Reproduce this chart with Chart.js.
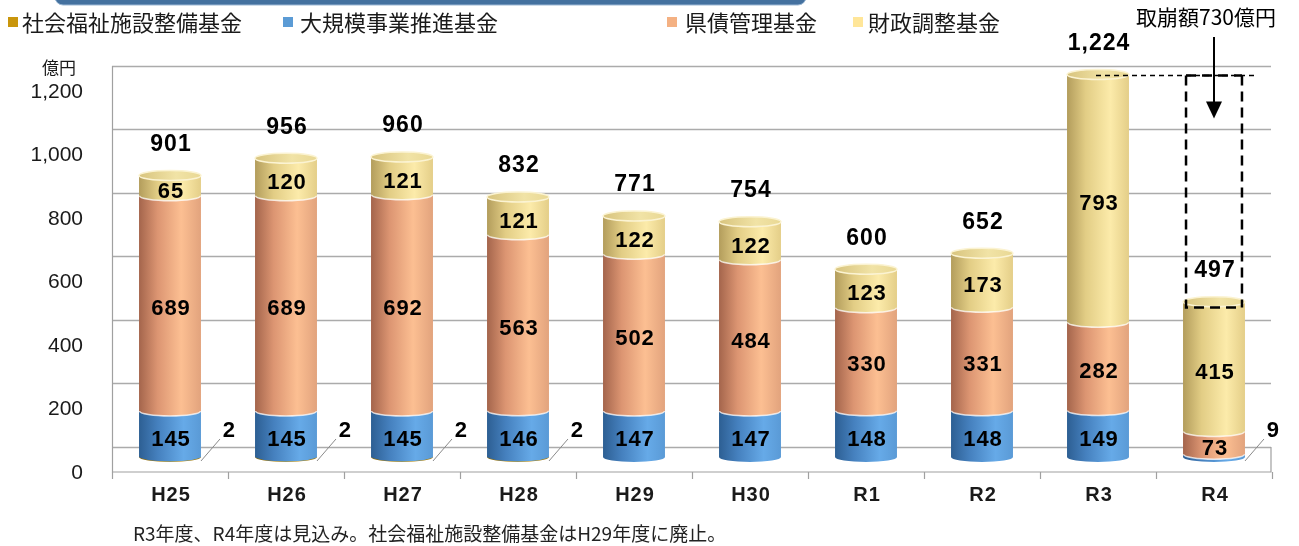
<!DOCTYPE html>
<html lang="ja">
<head>
<meta charset="utf-8">
<title>基金残高の推移</title>
<script src="https://cdn.jsdelivr.net/npm/chart.js@4.4.1/dist/chart.umd.min.js"></script>
<style>
  html, body { margin: 0; padding: 0; background: #fff; }
  #wrap { width: 1299px; height: 546px; }
</style>
</head>
<body>
<div id="wrap"><canvas id="fundChart" width="1299" height="546"></canvas></div>
<script>
  // Data (億円)
  const categories = ['H25', 'H26', 'H27', 'H28', 'H29', 'H30', 'R1', 'R2', 'R3', 'R4'];
  const welfareFund = [2, 2, 2, 2, 0, 0, 0, 0, 0, 0];           // 社会福祉施設整備基金
  const largeProjectFund = [145, 145, 145, 146, 147, 147, 148, 148, 149, 9]; // 大規模事業推進基金
  const bondFund = [689, 689, 692, 563, 502, 484, 330, 331, 282, 73];      // 県債管理基金
  const adjustmentFund = [65, 120, 121, 121, 122, 122, 123, 173, 793, 415]; // 財政調整基金
  const totals = [901, 956, 960, 832, 771, 754, 600, 652, 1224, 497];
  const yTicks = [0, 200, 400, 600, 800, 1000, 1200];
  const drawdownLabel = '取崩額730億円';
  const footnote = 'R3年度、R4年度は見込み。社会福祉施設整備基金はH29年度に廃止。';

  const JP = '"Noto Sans CJK JP", "Noto Sans", sans-serif';
  const NUM = '"Liberation Sans", Arial, sans-serif';

  // side gradients for each series
  const palettes = [
    { legend: '#c9960c', stops: [[0, '#8a6a10'], [0.5, '#c9960c'], [1, '#a07a10']] },
    { legend: '#5b9bd5', stops: [[0, '#2d5f93'], [0.3, '#4580be'], [0.72, '#66aae8'], [1, '#5a9ad6']] },
    { legend: '#f4b183', stops: [[0, '#a4654c'], [0.3, '#dc9572'], [0.68, '#fcbf92'], [1, '#e2a37d']] },
    { legend: '#ffe699', stops: [[0, '#b39d5c'], [0.3, '#e2cd85'], [0.7, '#fcebaa'], [1, '#e4ce88']] }
  ];

  const fmt = (v) => v.toLocaleString('en-US');

  function sideGradient(ctx, x, r, stops) {
    const g = ctx.createLinearGradient(x - r, 0, x + r, 0);
    stops.forEach(([o, c]) => g.addColorStop(o, c));
    return g;
  }

  // background: title band, legend, walls, grid, axis texts
  const framePlugin = {
    id: 'frame',
    beforeDatasetsDraw(chart) {
      const { ctx, chartArea, scales } = chart;
      const wall = scales.yWall;
      const xs = scales.x;
      const left = chartArea.left;
      const right = chartArea.right - 1;
      const back0 = wall.getPixelForValue(0);
      const front = back0 + 25;

      ctx.save();

      // top band
      ctx.beginPath();
      ctx.roundRect(55, -12, 751, 17, 8);
      ctx.fillStyle = '#44719f';
      ctx.fill();
      ctx.strokeStyle = '#9cb8d4';
      ctx.lineWidth = 1;
      ctx.stroke();

      // legend
      const legendPos = [[8, 22], [283, 300], [667, 685], [853, 868]];
      ctx.font = '22px ' + JP;
      ctx.textBaseline = 'middle';
      ctx.textAlign = 'left';
      chart.data.datasets.forEach((ds, i) => {
        const [sx, tx] = legendPos[i];
        ctx.fillStyle = palettes[i].legend;
        ctx.fillRect(sx, 17, 10, 10);
        ctx.fillStyle = '#1a1a1a';
        ctx.fillText(ds.label, tx, 23);
      });

      // grid lines on back wall
      ctx.strokeStyle = '#ababab';
      ctx.lineWidth = 1.5;
      yTicks.forEach((v) => {
        const y = Math.round(wall.getPixelForValue(v)) + 0.5;
        ctx.beginPath();
        ctx.moveTo(left, y);
        ctx.lineTo(right, y);
        ctx.stroke();
      });

      // left wall edge, floor
      ctx.lineWidth = 1.2;
      ctx.strokeStyle = '#a0a0a0';
      ctx.beginPath();
      ctx.moveTo(left + 0.5, wall.getPixelForValue(yTicks[yTicks.length - 1]));
      ctx.lineTo(left + 0.5, front);
      ctx.lineTo(right, front);
      ctx.lineTo(right, back0);
      ctx.stroke();

      // category ticks on floor front
      const step = xs.getPixelForValue(1) - xs.getPixelForValue(0);
      for (let i = 0; i <= categories.length; i++) {
        const x = Math.round(xs.getPixelForValue(0) - step / 2 + i * step) + 0.5;
        ctx.beginPath();
        ctx.moveTo(x, front);
        ctx.lineTo(x, front + 7);
        ctx.stroke();
      }

      // y tick labels
      ctx.fillStyle = '#1a1a1a';
      ctx.font = '21px ' + NUM;
      ctx.textAlign = 'right';
      yTicks.forEach((v) => {
        ctx.fillText(fmt(v), 83, wall.getPixelForValue(v) + 26);
      });
      ctx.font = '17px ' + JP;
      ctx.textAlign = 'center';
      ctx.fillText('億円', 59, 68);

      // x labels
      ctx.font = 'bold 20px ' + NUM;
      ctx.letterSpacing = '1px';
      categories.forEach((c, i) => {
        ctx.fillText(c, xs.getPixelForValue(i) + 1, 495);
      });
      ctx.letterSpacing = '0px';

      // footnote
      ctx.font = '19px ' + JP;
      ctx.textAlign = 'left';
      ctx.fillStyle = '#222';
      ctx.fillText(footnote, 133, 534);

      ctx.restore();
    }
  };

  // cylinders, value labels and the drawdown annotation
  const cylinderPlugin = {
    id: 'cylinders',
    afterDatasetsDraw(chart) {
      const { ctx, scales } = chart;
      const ry = 5;
      const sets = chart.data.datasets;
      const topIndex = categories.map((_, i) => {
        let t = -1;
        sets.forEach((ds, d) => { if (ds.data[i] > 0) t = d; });
        return t;
      });

      ctx.save();
      sets.forEach((ds, d) => {
        const meta = chart.getDatasetMeta(d);
        meta.data.forEach((el, i) => {
          if (!(ds.data[i] > 0)) return;
          const r = el.width / 2;
          const x = el.x;
          const yTop = el.y;
          const yBot = el.base;
          ctx.beginPath();
          ctx.moveTo(x - r, yTop);
          ctx.lineTo(x - r, yBot);
          ctx.ellipse(x, yBot, r, ry, 0, Math.PI, 0, true);
          ctx.lineTo(x + r, yTop);
          ctx.closePath();
          ctx.fillStyle = sideGradient(ctx, x, r, palettes[d].stops);
          ctx.fill();
          if (d > 0 && yBot < scales.y.getPixelForValue(0) - 2) {
            ctx.beginPath();
            ctx.ellipse(x, yBot, r - 0.5, ry, 0, Math.PI, 0, true);
            ctx.strokeStyle = 'rgba(255,255,255,0.75)';
            ctx.lineWidth = 1.5;
            ctx.stroke();
          }
          if (topIndex[i] === d) {
            const g = ctx.createLinearGradient(x - r, 0, x + r, 0);
            g.addColorStop(0, '#d8c47e');
            g.addColorStop(0.6, '#f1e3a6');
            g.addColorStop(1, '#e9d894');
            ctx.beginPath();
            ctx.ellipse(x, yTop, r, ry, 0, 0, Math.PI * 2);
            ctx.fillStyle = g;
            ctx.fill();
            ctx.strokeStyle = '#fbf3d2';
            ctx.lineWidth = 1.5;
            ctx.stroke();
          }
        });
      });

      // segment labels
      ctx.fillStyle = '#000';
      ctx.textAlign = 'center';
      ctx.textBaseline = 'middle';
      sets.forEach((ds, d) => {
        const meta = chart.getDatasetMeta(d);
        meta.data.forEach((el, i) => {
          const v = ds.data[i];
          if (!(v > 0)) return;
          const r = el.width / 2;
          if (v >= 20) {
            ctx.font = 'bold 22px ' + NUM;
            ctx.letterSpacing = '1px';
            ctx.fillText(fmt(v), el.x + 1, (el.y + el.base) / 2 + 6);
            ctx.letterSpacing = '0px';
          } else {
            const bx = el.x + r;
            const by = el.base + 4;
            ctx.beginPath();
            ctx.moveTo(bx, by);
            ctx.lineTo(bx + 19, by - 22);
            ctx.strokeStyle = '#8a8a8a';
            ctx.lineWidth = 1;
            ctx.stroke();
            ctx.font = 'bold 22px ' + NUM;
            ctx.fillText(fmt(v), bx + 28, by - 30);
          }
        });
      });

      // totals above bars
      const xs = scales.x;
      ctx.font = 'bold 23px ' + NUM;
      ctx.letterSpacing = '1px';
      totals.forEach((t, i) => {
        ctx.fillText(fmt(t), xs.getPixelForValue(i) + 1, scales.y.getPixelForValue(t) - 31);
      });
      ctx.letterSpacing = '0px';

      // drawdown annotation between R3 and R4
      const i3 = categories.indexOf('R3');
      const i4 = categories.indexOf('R4');
      const r = chart.getDatasetMeta(0).data[i4].width / 2;
      const x3 = xs.getPixelForValue(i3);
      const x4 = xs.getPixelForValue(i4);
      const yHigh = Math.round(scales.y.getPixelForValue(totals[i3])) + 0.5;
      const yLow = Math.round(scales.y.getPixelForValue(totals[i4])) + 5.5;
      const bl = x4 - r + 3;
      const br = x4 + r - 3;

      ctx.strokeStyle = '#000';
      ctx.lineWidth = 1.5;
      ctx.setLineDash([5, 4]);
      ctx.beginPath();
      ctx.moveTo(x3 - 2, yHigh);
      ctx.lineTo(x4 + r + 10, yHigh);
      ctx.stroke();

      ctx.lineWidth = 2.5;
      ctx.setLineDash([10, 6]);
      ctx.beginPath();
      ctx.moveTo(bl, yHigh);
      ctx.lineTo(br, yHigh);
      ctx.moveTo(bl, yHigh);
      ctx.lineTo(bl, yLow);
      ctx.lineTo(br, yLow);
      ctx.moveTo(br, yHigh);
      ctx.lineTo(br, yLow);
      ctx.stroke();
      ctx.setLineDash([]);

      // arrow
      ctx.lineWidth = 2;
      ctx.beginPath();
      ctx.moveTo(x4, 37);
      ctx.lineTo(x4, yHigh + 28);
      ctx.stroke();
      ctx.beginPath();
      ctx.moveTo(x4 - 8, yHigh + 26);
      ctx.lineTo(x4 + 8, yHigh + 26);
      ctx.lineTo(x4, yHigh + 43);
      ctx.closePath();
      ctx.fillStyle = '#000';
      ctx.fill();

      ctx.font = '21px ' + JP;
      ctx.textAlign = 'center';
      ctx.fillText(drawdownLabel, x4 - 8, 17);

      ctx.restore();
    }
  };

  (function () {
    const canvas = document.getElementById('fundChart');
    if (!canvas || typeof Chart === 'undefined') return;

    const series = [
      { label: '社会福祉施設整備基金', data: welfareFund },
      { label: '大規模事業推進基金', data: largeProjectFund },
      { label: '県債管理基金', data: bondFund },
      { label: '財政調整基金', data: adjustmentFund }
    ];

    new Chart(canvas.getContext('2d'), {
      type: 'bar',
      data: {
        labels: categories,
        datasets: series.map((s) => ({
          label: s.label,
          data: s.data,
          backgroundColor: 'rgba(0,0,0,0)',
          borderWidth: 0,
          categoryPercentage: 1,
          barPercentage: 0.534
        }))
      },
      options: {
        responsive: false,
        animation: false,
        layout: { padding: { top: 82, bottom: 89, left: 112, right: 27 } },
        plugins: {
          legend: { display: false },
          tooltip: { enabled: false }
        },
        scales: {
          x: { stacked: true, display: false },
          y: { stacked: true, display: false, min: 0, max: 1200 },
          yWall: { type: 'linear', position: 'left', display: false, min: -31.5, max: 1149.6 }
        }
      },
      plugins: [framePlugin, cylinderPlugin]
    });
  })();
</script>
</body>
</html>
